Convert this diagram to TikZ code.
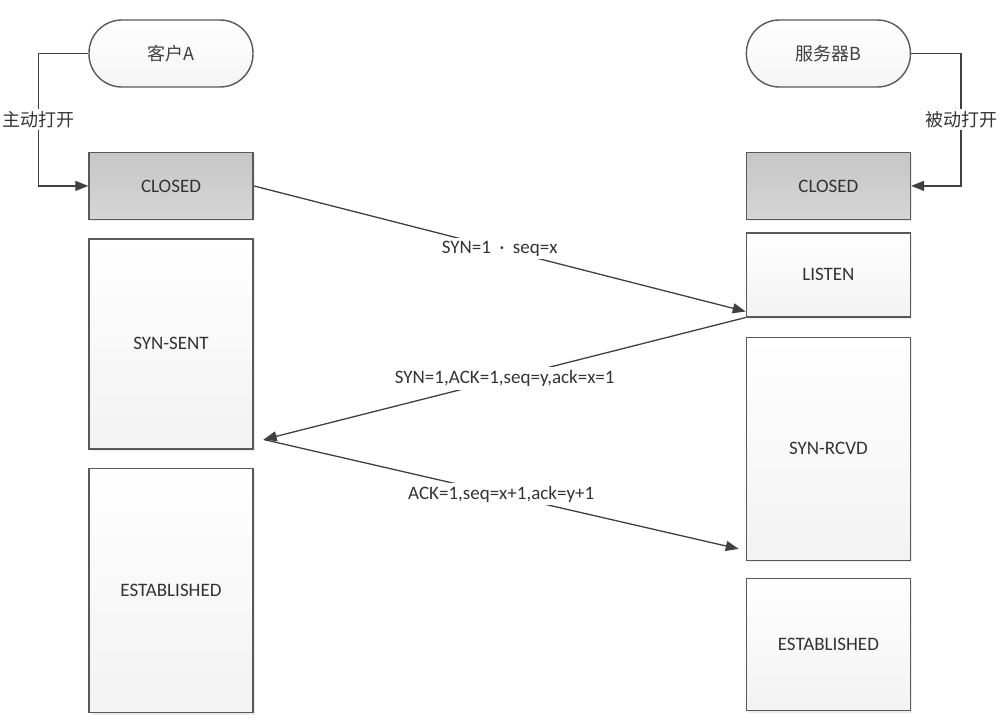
\documentclass[tikz,border=0pt]{standalone}
\usepackage{fontspec}
\setmainfont{Carlito}
\newfontfamily\cjk{Noto Sans CJK SC}
\usetikzlibrary{arrows.meta, positioning, shadows}

\begin{document}
\begin{tikzpicture}[x=0.5pt, y=0.5pt,
  node distance=9pt,
  terminal/.style={rectangle, rounded corners=16.5pt, draw=black!65, line width=0.7pt,
                   top color=white, bottom color=gray!8, minimum width=82pt,
                   minimum height=33.5pt, font=\cjk\fontsize{9}{11}\selectfont, text=black!75},
  state/.style={rectangle, draw=black!65, line width=0.7pt, top color=white,
                bottom color=gray!10, minimum width=82pt, align=center,
                font=\fontsize{9.5}{11}\selectfont, text=black!80,
                drop shadow={opacity=0.15, shadow xshift=1pt, shadow yshift=-1pt}},
  closed/.style={state, top color=gray!45, bottom color=gray!32},
  arrow/.style={-{Triangle[length=6.5pt, width=5pt]}, draw=black!75, line width=0.65pt},
  msg/.style={fill=white, inner sep=1.5pt, font=\fontsize{9.5}{11}\selectfont, text=black!80},
  side/.style={fill=white, inner sep=1pt, font=\cjk\fontsize{9}{11}\selectfont, text=black!80},
]
  \useasboundingbox (0,0) rectangle (1000,-724);

  % client side
  \node[terminal] (clientA) at (171,-53.5) {客户A};
  \node[closed, below=32pt of clientA, minimum height=33.5pt] (closedA) {CLOSED};
  \node[state, below=of closedA, minimum height=105pt] (synsent) {SYN-SENT};
  \node[state, below=of synsent, minimum height=122.25pt] (estA) {ESTABLISHED};

  % server side
  \node[terminal, right=246pt of clientA] (serverB) {服务器B};
  \node[closed, below=32pt of serverB, minimum height=33.5pt] (closedB) {CLOSED};
  \node[state, below=6pt of closedB, minimum height=42pt] (listen) {LISTEN};
  \node[state, below=9.5pt of listen, minimum height=111.5pt] (synrcvd) {SYN-RCVD};
  \node[state, below=8.5pt of synrcvd, minimum height=66pt] (estB) {ESTABLISHED};

  \coordinate (turn) at ([xshift=5pt, yshift=5pt]synsent.south east);

  \draw[arrow] (clientA.west) -- ++(-25pt,0) |- node[side, pos=0.25] {主动打开} (closedA.west);
  \draw[arrow] (serverB.east) -- ++(25pt,0) |- node[side, pos=0.25] {被动打开} (closedB.east);

  \draw[arrow] (closedA.east) -- node[msg] {SYN=1\ \ ·\ \ seq=x} ([yshift=3pt]listen.south west);
  \draw[arrow] (listen.south west) -- node[msg] {SYN=1,ACK=1,seq=y,ack=x=1} (turn);
  \draw[arrow] (turn) -- node[msg] {ACK=1,seq=x+1,ack=y+1} ([xshift=-3.5pt, yshift=6pt]synrcvd.south west);
\end{tikzpicture}
\end{document}
